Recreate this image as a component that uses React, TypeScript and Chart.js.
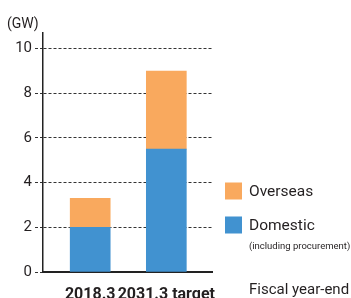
import React, { useEffect, useRef } from "react";
import { Chart, registerables } from "chart.js";

Chart.register(...registerables);

const categories = ["2018.3", "2031.3 target"];
const domestic = [2.0, 5.5];
const overseas = [1.3, 3.5];
const yTicks = [0, 2, 4, 6, 8, 10];
const unitLabel = "(GW)";
const axisTitle = "Fiscal year-end";
const legendItems = ["Overseas", "Domestic"];
const legendNote = "(including procurement)";

const ORANGE = "#F9A95E";
const BLUE = "#4192D0";
const TEXT = "#231F20";
const FONT = 'Roboto, "Liberation Sans", sans-serif';

const extrasPlugin = {
  id: "extras",
  afterLayout(chart: any) {
    // widen the category range a little so bars sit where the reference puts them
    const s = chart.scales.x;
    s._startValue = -0.62;
    s._valueRange = 2.22;
  },
  afterDraw(chart: any) {
    const ctx = chart.ctx as CanvasRenderingContext2D;
    ctx.save();
    ctx.fillStyle = TEXT;
    ctx.textBaseline = "middle";
    ctx.textAlign = "left";
    ctx.font = `14px ${FONT}`;
    ctx.fillText(unitLabel, 7, 24);

    const colors = [ORANGE, BLUE];
    const ys = [191, 225];
    legendItems.forEach((t, i) => {
      ctx.fillStyle = colors[i];
      ctx.fillRect(225, ys[i] - 8.5, 17, 17);
      ctx.fillStyle = TEXT;
      ctx.font = `15.5px ${FONT}`;
      ctx.fillText(t, 249, ys[i] + 1);
    });
    ctx.font = `9.5px ${FONT}`;
    ctx.fillText(legendNote, 249, 247);

    ctx.font = `15px ${FONT}`;
    ctx.fillText(axisTitle, 249, 290);
    ctx.restore();
  },
};

export default function App() {
  const ref = useRef<HTMLCanvasElement | null>(null);

  useEffect(() => {
    if (!ref.current) return;
    const chart = new Chart(ref.current, {
      type: "bar",
      data: {
        labels: categories,
        datasets: [
          {
            label: legendItems[1],
            data: domestic,
            backgroundColor: BLUE,
            barThickness: 40,
          },
          {
            label: legendItems[0],
            data: overseas,
            backgroundColor: ORANGE,
            barThickness: 40,
          },
        ],
      },
      options: {
        animation: false,
        responsive: false,
        layout: { padding: { top: 33, right: 139, left: 0, bottom: 0 } },
        plugins: {
          legend: { display: false },
          tooltip: { enabled: false },
        },
        scales: {
          x: {
            type: "category",
            stacked: true,
            offset: true,
            afterFit: (scale: any) => {
              scale.height = 26;
            },
            grid: { display: false },
            border: { display: true, color: "#222", width: 2 },
            ticks: {
              autoSkip: false,
              maxRotation: 0,
              padding: 5,
              color: TEXT,
              font: { family: FONT, size: 16, weight: "bold" },
            },
          },
          y: {
            type: "linear",
            stacked: true,
            min: 0,
            max: 10.7,
            afterBuildTicks: (scale: any) => {
              scale.ticks = yTicks.map((v) => ({ value: v }));
            },
            afterFit: (scale: any) => {
              scale.width = 43;
            },
            grid: {
              color: (c: any) => (c.tick && c.tick.value === 0 ? "rgba(0,0,0,0)" : "#333"),
              lineWidth: 1,
              drawTicks: true,
              tickLength: 8,
              tickColor: "#333",
              tickBorderDash: [3, 2],
            },
            border: { display: true, color: "#222", width: 1.5, dash: [3, 2] },
            ticks: {
              padding: 3,
              color: TEXT,
              font: { family: FONT, size: 15 },
            },
          },
        },
      },
      plugins: [extrasPlugin],
    } as any);
    return () => chart.destroy();
  }, []);

  return (
    <div style={{ position: "absolute", left: 0, top: 0, width: 351, height: 298, background: "#fff" }}>
      <canvas ref={ref} width={351} height={298} style={{ display: "block" }} />
    </div>
  );
}
